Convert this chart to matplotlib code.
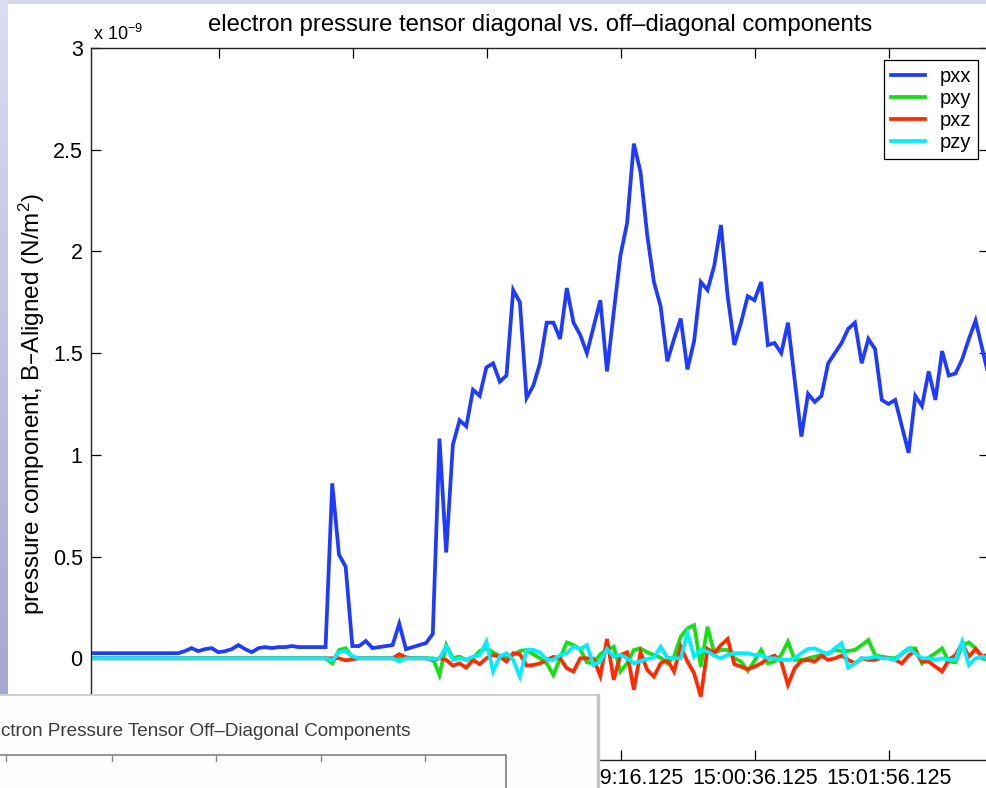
import matplotlib
matplotlib.use("Agg")
import matplotlib.pyplot as plt
import numpy as np
import pandas as pd
from matplotlib.patches import Rectangle
from matplotlib.lines import Line2D

plt.rcParams["font.family"] = ["Liberation Sans", "DejaVu Sans"]
plt.rcParams["mathtext.default"] = "regular"

# sample start and spin cadence of the pressure tensor data
START_TIME = "2002-01-01 14:53:59.625"
CADENCE = "4s"

# diagonal component (x 1e-9 N/m^2)
pxx = [
    0.025, 0.025, 0.025, 0.025, 0.025, 0.025, 0.025, 0.025, 0.025, 0.025,
    0.025, 0.025, 0.025, 0.025, 0.035, 0.05, 0.035, 0.045, 0.05, 0.03,
    0.035, 0.045, 0.065, 0.045, 0.03, 0.05, 0.055, 0.05, 0.055, 0.055,
    0.06, 0.055, 0.055, 0.055, 0.055, 0.055, 0.86, 0.51, 0.45, 0.06,
    0.06, 0.085, 0.05, 0.055, 0.06, 0.065, 0.17, 0.045, 0.055, 0.065,
    0.075, 0.12, 1.08, 0.52, 1.05, 1.17, 1.14, 1.32, 1.29, 1.43,
    1.45, 1.36, 1.39, 1.81, 1.75, 1.28, 1.34, 1.45, 1.65, 1.65,
    1.57, 1.82, 1.65, 1.59, 1.50, 1.63, 1.76, 1.41, 1.70, 1.98,
    2.14, 2.53, 2.39, 2.08, 1.85, 1.73, 1.46, 1.57, 1.67, 1.42,
    1.56, 1.85, 1.81, 1.93, 2.13, 1.78, 1.54, 1.65, 1.78, 1.76,
    1.85, 1.54, 1.55, 1.50, 1.65, 1.37, 1.09, 1.30, 1.26, 1.29,
    1.45, 1.50, 1.55, 1.62, 1.65, 1.45, 1.57, 1.52, 1.27, 1.25,
    1.27, 1.14, 1.01, 1.29, 1.24, 1.41, 1.27, 1.51, 1.39, 1.40,
    1.47, 1.57, 1.66, 1.52, 1.38,
]

# off-diagonal components (x 1e-9 N/m^2)
pxy = [
    0.0, 0.0, 0.0, 0.0, 0.0, 0.0, 0.0, 0.0, 0.0, 0.0,
    0.0, 0.0, 0.0, 0.0, 0.0, 0.0, 0.0, 0.0, 0.0, 0.0,
    0.0, 0.0, 0.0, 0.0, 0.0, 0.0, 0.0, 0.0, 0.0, 0.0,
    0.0, 0.0, 0.0, 0.0, 0.0, 0.0, -0.025, 0.04, 0.05, 0.005,
    0.0, 0.0, 0.0, 0.0, 0.0, 0.0, 0.0, 0.0, 0.0, 0.0,
    0.0, 0.0, -0.082, 0.065, 0.0, 0.008, -0.008, 0.0, 0.036, 0.049,
    0.029, 0.011, 0.0, 0.016, 0.036, 0.041, 0.02, 0.0, -0.025, -0.082,
    0.0, 0.078, 0.065, 0.044, -0.02, -0.025, 0.02, 0.041, 0.057, -0.065,
    -0.025, 0.041, 0.049, 0.029, 0.016, 0.003, -0.025, 0.008, 0.106, 0.147,
    0.163, -0.041, 0.155, 0.025, 0.041, 0.041, 0.0, -0.016, -0.062, -0.013,
    0.041, -0.025, -0.016, 0.016, 0.082, -0.008, -0.008, 0.0, 0.008, 0.016,
    0.025, 0.041, 0.036, 0.036, 0.041, 0.065, 0.09, 0.016, 0.008, 0.003,
    0.0, 0.02, 0.049, 0.049, -0.025, 0.003, 0.025, 0.049, -0.016, -0.02,
    0.065, 0.078, 0.049, 0.0, -0.01,
]

pxz = [
    0.0, 0.0, 0.0, 0.0, 0.0, 0.0, 0.0, 0.0, 0.0, 0.0,
    0.0, 0.0, 0.0, 0.0, 0.0, 0.0, 0.0, 0.0, 0.0, 0.0,
    0.0, 0.0, 0.0, 0.0, 0.0, 0.0, 0.0, 0.0, 0.0, 0.0,
    0.0, 0.0, 0.0, 0.0, 0.0, 0.0, 0.0, 0.0, -0.01, -0.005,
    0.0, 0.0, 0.0, 0.0, 0.0, 0.0, 0.02, 0.005, 0.0, 0.0,
    0.0, -0.01, 0.0, -0.008, -0.036, -0.025, -0.046, -0.008, -0.029, 0.0,
    0.016, 0.008, -0.016, 0.025, 0.02, -0.036, -0.033, -0.025, -0.008, 0.007,
    0.0, -0.049, -0.065, 0.0, 0.0, -0.003, -0.087, 0.095, -0.106, 0.016,
    0.029, -0.155, 0.029, -0.057, -0.09, -0.025, -0.008, -0.065, 0.057, -0.016,
    -0.074, -0.188, 0.046, 0.025, 0.065, 0.095, -0.029, -0.041, -0.054, -0.041,
    -0.025, 0.0, 0.013, -0.016, -0.131, -0.049, -0.013, -0.008, -0.016, 0.013,
    -0.008, 0.0, 0.013, -0.008, -0.025, 0.0, -0.008, -0.008, 0.003, 0.0,
    -0.008, -0.025, 0.013, 0.036, -0.016, -0.016, -0.041, -0.065, -0.008, 0.016,
    0.074, 0.008, 0.046, 0.008, 0.02,
]

pzy = [
    0.0, 0.0, 0.0, 0.0, 0.0, 0.0, 0.0, 0.0, 0.0, 0.0,
    0.0, 0.0, 0.0, 0.0, 0.0, 0.0, 0.0, 0.0, 0.0, 0.0,
    0.0, 0.0, 0.0, 0.0, 0.0, 0.0, 0.0, 0.0, 0.0, 0.0,
    0.0, 0.0, 0.0, 0.0, 0.0, 0.0, -0.01, 0.03, 0.035, 0.01,
    0.0, 0.0, 0.0, 0.0, 0.0, 0.0, -0.015, 0.0, 0.0, 0.0,
    0.0, -0.005, 0.0, 0.057, -0.008, 0.0, -0.007, 0.008, 0.016, 0.082,
    -0.065, 0.008, 0.025, -0.008, -0.09, 0.041, 0.041, 0.029, -0.008, -0.008,
    0.016, 0.025, 0.057, 0.046, 0.065, -0.033, -0.016, 0.046, 0.008, 0.016,
    0.0, -0.025, -0.013, -0.003, 0.003, 0.057, 0.003, 0.0, 0.0, 0.123,
    0.008, 0.041, 0.033, 0.013, 0.0, 0.016, 0.025, 0.025, 0.025, 0.016,
    0.016, 0.0, 0.0, -0.008, -0.008, 0.0, 0.025, 0.046, 0.049, 0.033,
    0.02, 0.049, 0.074, -0.046, -0.025, 0.0, 0.0, 0.008, 0.0, 0.0,
    -0.008, 0.025, 0.049, 0.025, 0.0, 0.0, -0.008, 0.0, -0.008, -0.008,
    0.082, -0.033, 0.0, 0.008, 0.0,
]

tick_labels = ["14:55:16.125", "14:56:36.125", "14:57:56.125",
               "14:59:16.125", "15:00:36.125", "15:01:56.125"]
y_ticks = [0, 0.5, 1, 1.5, 2, 2.5, 3]
y_tick_labels = ["0", "0.5", "1", "1.5", "2", "2.5", "3"]

series = [("pxx", pxx, "#1f3bff"), ("pxy", pxy, "#14e014"),
          ("pxz", pxz, "#ff2a00"), ("pzy", pzy, "#00eeff")]

W, H = 986, 788


def fx(px):
    return px / W


def fy(py):
    return 1 - py / H


fig = plt.figure(figsize=(W / 100, H / 100), dpi=100)
fig.patch.set_facecolor("white")

times = pd.date_range(START_TIME, periods=len(pxx), freq=CADENCE)
tick_pos = pd.to_datetime(["2002-01-01 " + t for t in tick_labels])

ax = fig.add_axes([fx(91), fy(760), fx(989) - fx(91), fy(48) - fy(760)])
for name, values, color in series:
    ax.plot(times, values, color=color, lw=2.7, label=name,
            solid_joinstyle="miter")

ax.set_xlim(times[0], times[-1])
ax.set_ylim(-0.5, 3)
ax.set_xticks(tick_pos)
ax.set_xticklabels(tick_labels)
ax.set_yticks(y_ticks)
ax.set_yticklabels(y_tick_labels)
ax.tick_params(direction="in", length=7, width=0.9, labelsize=15.5,
               top=True, right=True, pad=6)
for sp in ax.spines.values():
    sp.set_linewidth(1.0)
    sp.set_color("#222222")

ax.set_title("electron pressure tensor diagonal vs. off\u2013diagonal components",
             fontsize=17.2, pad=12)
ax.set_ylabel("pressure component, B\u2013Aligned (N/m$^2$)", fontsize=17.5)
ax.yaxis.set_label_coords(-0.049, 0.5)
ax.text(0.002, 1.006, "x 10$^{-9}$", transform=ax.transAxes,
        fontsize=13, ha="left", va="bottom")

leg = ax.legend(loc="upper right", bbox_to_anchor=(fx(978 - 91) / fx(898), (760 - 60) / 712),
                fontsize=14.5, frameon=True, fancybox=False, framealpha=1,
                edgecolor="black", handlelength=1.7, handletextpad=0.7,
                labelspacing=0.15, borderpad=0.35, borderaxespad=0)
leg.get_frame().set_linewidth(0.9)

# slide background strips
fig.add_artist(Rectangle((0, fy(4)), 1, 4 / H, transform=fig.transFigure,
                         facecolor="#d6d6ef", edgecolor="none", zorder=5))
strip = fig.add_axes([0, fy(695), fx(8), fy(0) - fy(695)], zorder=6)
grad = np.linspace(0, 1, 256).reshape(-1, 1)
strip.imshow(grad, aspect="auto", cmap=matplotlib.colors.LinearSegmentedColormap.from_list(
    "slide", ["#dcdcf3", "#a6a6d0"]))
strip.set_axis_off()

# overlapping window in the lower left corner (only its visible part)
fig.add_artist(Rectangle((0, 0), fx(597), fy(695), transform=fig.transFigure,
                         facecolor="#fdfdfd", edgecolor="none", zorder=10))
fig.add_artist(Line2D([0, fx(597)], [fy(695), fy(695)], transform=fig.transFigure,
                      color="#cfcfcf", lw=1.5, zorder=11))
fig.add_artist(Line2D([fx(598), fx(598)], [0, fy(695)], transform=fig.transFigure,
                      color="#c4c4c4", lw=2.5, zorder=11))
fig.text(fx(1), fy(732), "ctron Pressure Tensor Off\u2013Diagonal Components",
         ha="left", va="center", fontsize=13.6, color="#3c3c3c", zorder=12)
fig.add_artist(Line2D([0, fx(506), fx(506)], [fy(755), fy(755), 0],
                      transform=fig.transFigure, color="#8a8a8a", lw=1.3, zorder=12))
for px in [6, 112, 216, 321, 425]:
    fig.add_artist(Line2D([fx(px), fx(px)], [fy(755), fy(761)],
                          transform=fig.transFigure, color="#8a8a8a", lw=1.0, zorder=12))

fig.savefig("out.png", dpi=100, facecolor=fig.get_facecolor())
